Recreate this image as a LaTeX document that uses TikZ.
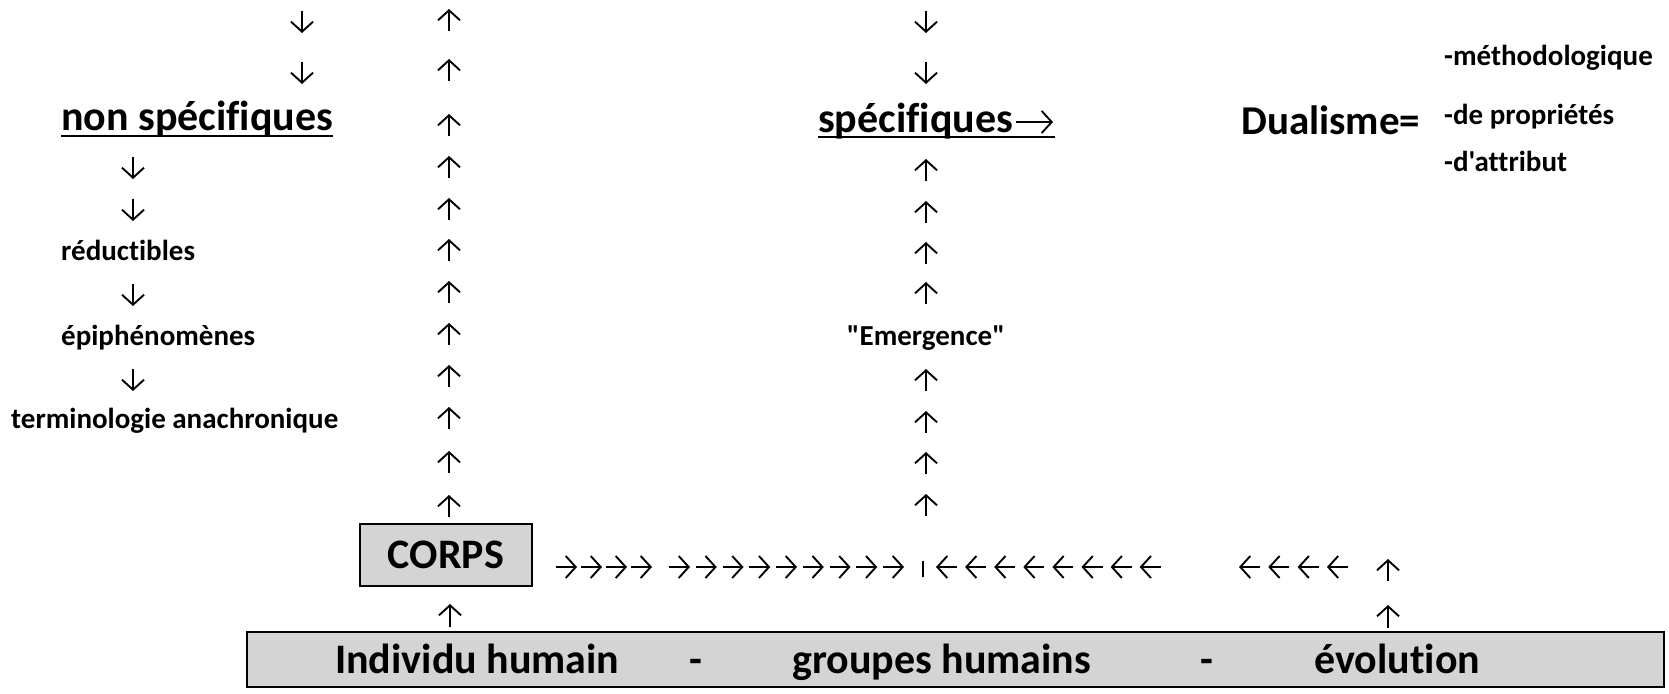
\documentclass[tikz,border=0pt]{standalone}
\usepackage{fontspec}
\newfontfamily\calfont{Carlito}[Ligatures={NoCommon,NoDiscretionary,NoContextual}]
\usetikzlibrary{arrows.meta}
\begin{document}
\begin{tikzpicture}[x=1pt,y=-1pt,
  big/.style={inner sep=0pt, anchor=base west, font=\calfont\bfseries\fontsize{42}{50}\selectfont},
  small/.style={inner sep=0pt, anchor=base west, font=\calfont\bfseries\fontsize{29}{35}\selectfont},
  arr/.style={line width=1.9pt, -{Straight Barb[length=10pt,width=22pt,line width=1.9pt]}},
  ul/.style={line width=2.3pt},
  boxfill/.style={fill=black!17, draw=black, line width=2.2pt}]
\useasboundingbox (0,0) rectangle (1669,693);
\fill[white] (0,0) rectangle (1669,693);

% ---- left column ----
\foreach \y in {22,73} \draw[arr] (302,{\y-11}) -- (302,{\y+11});
\node[big] (nonspec) at (61,130) {non spécifiques};
\draw[ul] ([yshift=-6pt]nonspec.base west) -- ([yshift=-6pt]nonspec.base east);
\foreach \y in {168,210,295,380} \draw[arr] (133,{\y-11}) -- (133,{\y+11});
\node[small] (reduc) at (61,260) {réductibles};
\node[small] (epiph) at (61,345) {épiphénomènes};
\node[small] (termi) at (11,428) {terminologie anachronique};

% ---- up column above CORPS ----
\foreach \y in {20,70,125,167,209,250,292,334,376,418,462,506}
  \draw[arr] (449,{\y+11}) -- (449,{\y-11});

% ---- middle column ----
\foreach \y in {22,73} \draw[arr] (926,{\y-11}) -- (926,{\y+11});
\node[big] (spec) at (818,132) {spécifiques};
\coordinate (specarrS) at (1016,122);
\coordinate (specarrE) at (1053,122);
\draw[arr] (specarrS) -- (specarrE);
\coordinate (specul) at (1055,137);
\draw[ul] ([yshift=-5pt]spec.base west) -- (specul);
\foreach \y in {170,212,253,293,380,422,463,505}
  \draw[arr] (926,{\y+11}) -- (926,{\y-11});
\node[small, anchor=base] (emerg) at (926,345) {"Emergence"};

% ---- dualisme ----
\node[big, font=\calfont\bfseries\fontsize{41}{49}\selectfont] (dual) at (1241,134) {Dualisme=};
\node[small] (meth) at (1444,66) {-méthodologique};
\node[small] (prop) at (1444,124) {-de propriétés};
\node[small] (attr) at (1444,171) {-d'attribut};

% ---- CORPS and horizontal arrows ----
\node[boxfill, minimum width=172pt, minimum height=62pt, inner sep=0pt,
      font=\calfont\bfseries\fontsize{42}{50}\selectfont] (corps) at (446,555) {CORPS};
\foreach \i in {0,...,3} \draw[arr] ({556+25*\i},567) -- ({577+25*\i},567);
\foreach \i in {0,...,8} \draw[arr] ({669+26.75*\i},567) -- ({690+26.75*\i},567);
\coordinate (barT) at (923,561);
\coordinate (barB) at (923,577);
\draw[line width=2pt] (barT) -- (barB);
\foreach \i in {0,...,7} \draw[arr] ({957+29.1*\i},567) -- ({936+29.1*\i},567);
\foreach \i in {0,...,3} \draw[arr] ({1260+29.3*\i},567) -- ({1239+29.3*\i},567);
\draw[arr] (1388,581) -- (1388,559);
\draw[arr] (1388,628) -- (1388,605);

% ---- bottom bar ----
\node[boxfill, minimum width=1417pt, minimum height=55pt, inner sep=0pt] (bar) at (955.5,659.5) {};
\draw[arr] (450,627) -- (450,604);
\node[big] (indiv) at (335,673) {Individu humain};
\node[big, anchor=base] (dash1) at (696,673) {-};
\node[big] (group) at (792,673) {groupes humains};
\node[big, anchor=base] (dash2) at (1207,673) {-};
\node[big] (evol) at (1314,673) {évolution};
\end{tikzpicture}
\end{document}
